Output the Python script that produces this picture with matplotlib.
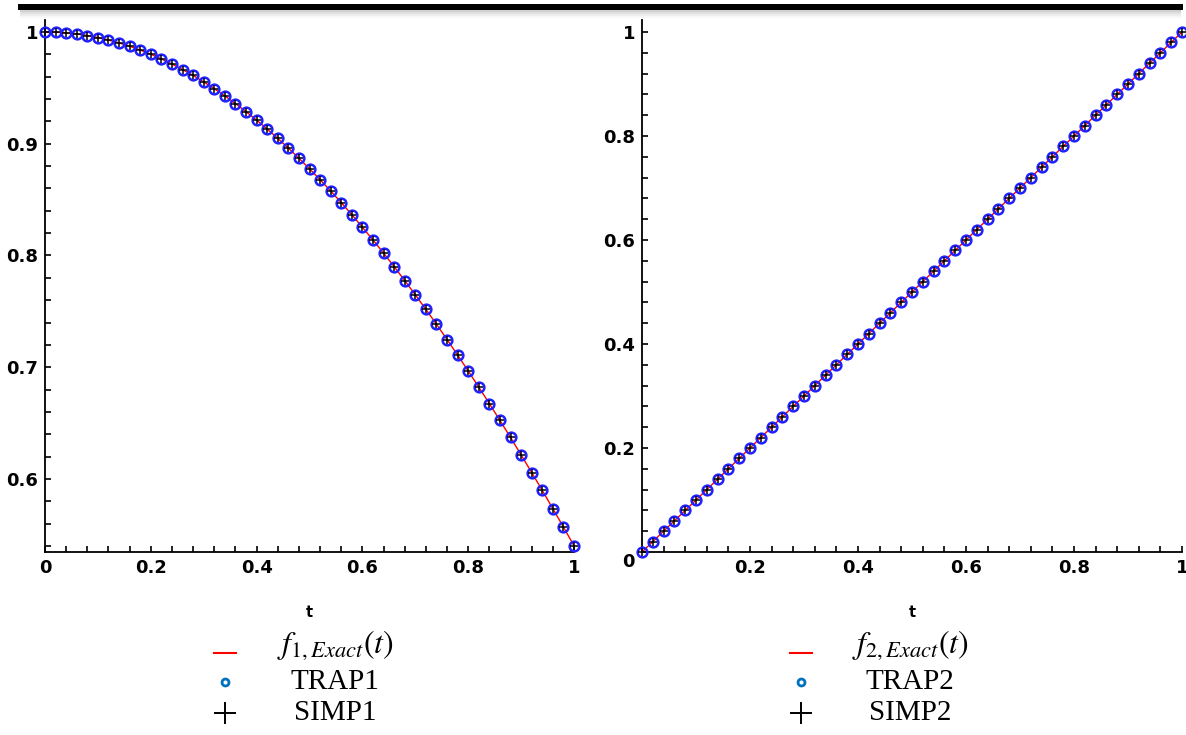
import matplotlib
matplotlib.use("Agg")
import matplotlib.pyplot as plt
import matplotlib.transforms as mtransforms
from matplotlib.lines import Line2D
from matplotlib.patches import Rectangle
from matplotlib.ticker import MultipleLocator

# sample points t = 0, 0.02, ..., 1
t_vals = [0.00, 0.02, 0.04, 0.06, 0.08, 0.10, 0.12, 0.14, 0.16, 0.18,
          0.20, 0.22, 0.24, 0.26, 0.28, 0.30, 0.32, 0.34, 0.36, 0.38,
          0.40, 0.42, 0.44, 0.46, 0.48, 0.50, 0.52, 0.54, 0.56, 0.58,
          0.60, 0.62, 0.64, 0.66, 0.68, 0.70, 0.72, 0.74, 0.76, 0.78,
          0.80, 0.82, 0.84, 0.86, 0.88, 0.90, 0.92, 0.94, 0.96, 0.98, 1.00]

# f1 (exact / trapezoid / simpson all coincide at plot scale)
f1_vals = [1.0000, 0.9998, 0.9992, 0.9982, 0.9968, 0.9950, 0.9928, 0.9902, 0.9872, 0.9838,
           0.9801, 0.9759, 0.9713, 0.9664, 0.9611, 0.9553, 0.9492, 0.9428, 0.9359, 0.9287,
           0.9211, 0.9131, 0.9048, 0.8961, 0.8870, 0.8776, 0.8678, 0.8577, 0.8473, 0.8365,
           0.8253, 0.8139, 0.8021, 0.7900, 0.7776, 0.7648, 0.7518, 0.7385, 0.7248, 0.7109,
           0.6967, 0.6822, 0.6675, 0.6524, 0.6372, 0.6216, 0.6058, 0.5898, 0.5735, 0.5570, 0.5403]

# f2
f2_vals = [0.00, 0.02, 0.04, 0.06, 0.08, 0.10, 0.12, 0.14, 0.16, 0.18,
           0.20, 0.22, 0.24, 0.26, 0.28, 0.30, 0.32, 0.34, 0.36, 0.38,
           0.40, 0.42, 0.44, 0.46, 0.48, 0.50, 0.52, 0.54, 0.56, 0.58,
           0.60, 0.62, 0.64, 0.66, 0.68, 0.70, 0.72, 0.74, 0.76, 0.78,
           0.80, 0.82, 0.84, 0.86, 0.88, 0.90, 0.92, 0.94, 0.96, 0.98, 1.00]

x_ticks = [0, 0.2, 0.4, 0.6, 0.8, 1]
x1_labels = ["0", "0.2", "0.4", "0.6", "0.8", "1"]
x2_labels = ["", "0.2", "0.4", "0.6", "0.8", "1"]   # corner "0" shared with y axis
y1_ticks = [0.6, 0.7, 0.8, 0.9, 1.0]
y1_labels = ["0.6", "0.7", "0.8", "0.9", "1"]
y2_ticks = [0, 0.2, 0.4, 0.6, 0.8, 1.0]
y2_labels = ["0", "0.2", "0.4", "0.6", "0.8", "1"]

legend1 = [r"$f_{1,Exact}(t)$", "TRAP1", "SIMP1"]
legend2 = [r"$f_{2,Exact}(t)$", "TRAP2", "SIMP2"]

plt.rcParams["mathtext.fontset"] = "stix"

W, H = 1186, 735
fig = plt.figure(figsize=(W / 100, H / 100), dpi=100)


def px_axes(x0, x1, y_top, y_bot):
    return fig.add_axes([x0 / W, 1 - y_bot / H, (x1 - x0) / W, (y_bot - y_top) / H])


def style(ax, xlabels, yticks, ylabels, yminor):
    for s in ["top", "right"]:
        ax.spines[s].set_visible(False)
    for s in ["left", "bottom"]:
        ax.spines[s].set_linewidth(1.3)
    ax.set_xticks(x_ticks)
    ax.set_xticklabels(xlabels)
    ax.set_yticks(yticks)
    ax.set_yticklabels(ylabels)
    ax.xaxis.set_minor_locator(MultipleLocator(0.04))
    ax.yaxis.set_minor_locator(MultipleLocator(yminor))
    ax.tick_params(which="both", direction="in", length=4, width=1.2, labelsize=13, pad=5)
    for lab in ax.get_xticklabels() + ax.get_yticklabels():
        lab.set_fontweight("heavy")
    ax.set_xlabel("t", fontsize=10.5, fontweight="bold", labelpad=20)


def draw(ax, y):
    ax.plot(t_vals, y, color="red", lw=1.0, zorder=2)
    ax.plot(t_vals, y, ls="none", marker="o", ms=7, mfc="none", mec="#2020ff", mew=1.8,
            zorder=3, clip_on=False)
    ax.plot(t_vals, y, ls="none", marker="+", ms=6, color="black", mew=1.1, zorder=4,
            clip_on=False)


ax1 = px_axes(45, 574, 20, 552)
draw(ax1, f1_vals)
ax1.set_xlim(0, 1)
ax1.set_ylim(0.5347, 1.0107)
style(ax1, x1_labels, y1_ticks, y1_labels, 0.02)

ax2 = px_axes(642, 1182, 20, 552)
draw(ax2, f2_vals)
ax2.set_xlim(0, 1)
ax2.set_ylim(0, 1.023)
style(ax2, x2_labels, y2_ticks, y2_labels, 0.04)
# nudge the corner "0" down a little, as in the reference
zero = ax2.get_yticklabels()[0]
zero.set_transform(zero.get_transform() + mtransforms.ScaledTranslation(0, -8 / 100, fig.dpi_scale_trans))

# top rule with soft shadow
for i, a in enumerate([0.25, 0.18, 0.12, 0.07, 0.03]):
    fig.add_artist(Rectangle(((18 + 2) / W, 1 - (10 + 2 * i) / H), (1165 - 4) / W, 2 / H,
                             transform=fig.transFigure, color="black", alpha=a, lw=0))
fig.add_artist(Rectangle((18 / W, 1 - 10 / H), 1165 / W, 6 / H,
                         transform=fig.transFigure, color="black", lw=0))


# legends under each panel
def legend(xm, xt, labels):
    rows = [645, 682, 713]
    fy = lambda y: 1 - y / H
    fig.add_artist(Line2D([(xm - 11) / W, (xm + 11) / W], [fy(rows[0] + 8)] * 2,
                          color="red", lw=1.5, transform=fig.transFigure))
    fig.add_artist(Line2D([xm / W], [fy(rows[1])], marker="o", ms=5, mfc="none",
                          mec="#0070c0", mew=2, transform=fig.transFigure))
    fig.add_artist(Line2D([xm / W], [fy(rows[2])], marker="+", ms=16, color="black",
                          mew=1.4, transform=fig.transFigure))
    fig.text(xt / W, fy(rows[0]), labels[0], ha="center", va="center", fontsize=23)
    for y, lab in zip(rows[1:], labels[1:]):
        fig.text(xt / W, fy(y), lab, ha="center", va="center", fontsize=21,
                 family="Liberation Serif")


legend(225, 335, legend1)
legend(801, 910, legend2)

fig.savefig("out.png", dpi=100)
